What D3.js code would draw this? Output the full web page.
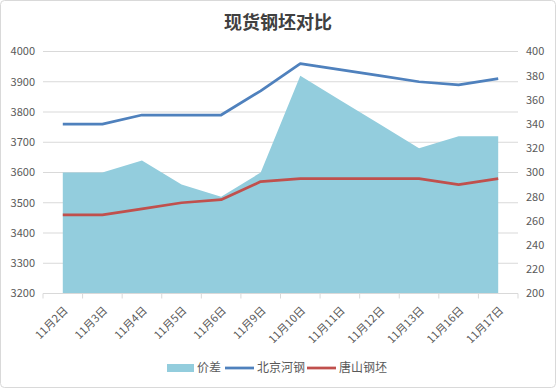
<!DOCTYPE html>
<html>
<head>
<meta charset="utf-8">
<script src="https://cdn.jsdelivr.net/npm/d3@7"></script>
<style>
  body { margin: 0; background: #fff; }
  svg text { font-family: "Noto Sans CJK SC", "Liberation Sans", sans-serif; }
</style>
</head>
<body>
<div id="chart"></div>
<script>
const dates = ["11月2日","11月3日","11月4日","11月5日","11月6日","11月9日","11月10日","11月11日","11月12日","11月13日","11月16日","11月17日"];
const beijing = [3760,3760,3790,3790,3790,3870,3960,3940,3920,3900,3890,3910];
const tangshan = [3460,3460,3480,3500,3510,3570,3580,3580,3580,3580,3560,3580];
const spread = [300,300,310,290,280,300,380,360,340,320,330,330];
const leftTicks = [3200,3300,3400,3500,3600,3700,3800,3900,4000];
const rightTicks = [200,220,240,260,280,300,320,340,360,380,400];

const W = 556, H = 388;
const m = { left: 43, right: 518, top: 51.5, bottom: 293.5 };

const svg = d3.select("#chart").append("svg")
  .attr("width", W).attr("height", H);

svg.append("rect")
  .attr("x", 0.5).attr("y", 0.5).attr("width", W - 1).attr("height", H - 1)
  .attr("rx", 4)
  .attr("fill", "#fff").attr("stroke", "#d9d9d9");

const xBand = d3.scaleBand().domain(dates).range([m.left, m.right]);
const x = d => xBand(d) + xBand.bandwidth() / 2;
const yL = d3.scaleLinear().domain([3200, 4000]).range([m.bottom, m.top]);
const yR = d3.scaleLinear().domain([200, 400]).range([m.bottom, m.top]);

// gridlines
svg.append("g").selectAll("line").data(leftTicks).join("line")
  .attr("x1", m.left).attr("x2", m.right)
  .attr("y1", d => yL(d)).attr("y2", d => yL(d))
  .attr("stroke", "#d9d9d9").attr("stroke-width", 1);

// area (价差, right axis)
const area = d3.area()
  .x((d, i) => x(dates[i]))
  .y0(yR(200))
  .y1(d => yR(d));
svg.append("path").datum(spread)
  .attr("d", area)
  .attr("fill", "#93cddd");

// lines
const lineL = d3.line().x((d, i) => x(dates[i])).y(d => yL(d));
svg.append("path").datum(beijing)
  .attr("d", lineL).attr("fill", "none")
  .attr("stroke", "#4f81bd").attr("stroke-width", 2.75).attr("stroke-linejoin", "round");
svg.append("path").datum(tangshan)
  .attr("d", lineL).attr("fill", "none")
  .attr("stroke", "#c0504d").attr("stroke-width", 2.75).attr("stroke-linejoin", "round");

// x axis line + ticks
svg.append("line")
  .attr("x1", m.left).attr("x2", m.right)
  .attr("y1", m.bottom).attr("y2", m.bottom)
  .attr("stroke", "#d9d9d9");
const bounds = dates.map(d => xBand(d)).concat([m.right]);
svg.append("g").selectAll("line").data(bounds).join("line")
  .attr("x1", d => d).attr("x2", d => d)
  .attr("y1", m.bottom).attr("y2", m.bottom + 5)
  .attr("stroke", "#d9d9d9");

// category labels
svg.append("g").selectAll("text").data(dates).join("text")
  .attr("transform", d => `translate(${x(d) + 3},${m.bottom + 15}) rotate(-45)`)
  .attr("text-anchor", "end")
  .attr("dy", "0.35em")
  .attr("font-size", 11)
  .attr("fill", "#595959")
  .text(d => d);

// left axis labels
svg.append("g").selectAll("text").data(leftTicks).join("text")
  .attr("x", 35).attr("y", d => yL(d))
  .attr("dy", "0.35em")
  .attr("text-anchor", "end")
  .attr("font-size", 11)
  .attr("fill", "#595959")
  .text(d => d);

// right axis labels
svg.append("g").selectAll("text").data(rightTicks).join("text")
  .attr("x", 526).attr("y", d => yR(d))
  .attr("dy", "0.35em")
  .attr("text-anchor", "start")
  .attr("font-size", 11)
  .attr("fill", "#595959")
  .text(d => d);

// title
svg.append("text")
  .attr("x", W / 2).attr("y", 23)
  .attr("dy", "0.35em")
  .attr("text-anchor", "middle")
  .attr("font-size", 18)
  .attr("font-weight", "bold")
  .attr("fill", "#404040")
  .text("现货钢坯对比");

// legend
const legend = svg.append("g").attr("font-size", 12).attr("fill", "#595959");
legend.append("rect").attr("x", 167).attr("y", 364).attr("width", 27).attr("height", 8).attr("fill", "#93cddd");
legend.append("text").attr("x", 197).attr("y", 368).attr("dy", "0.35em").text("价差");
legend.append("line").attr("x1", 225).attr("x2", 254).attr("y1", 368).attr("y2", 368)
  .attr("stroke", "#4f81bd").attr("stroke-width", 2.75);
legend.append("text").attr("x", 257).attr("y", 368).attr("dy", "0.35em").text("北京河钢");
legend.append("line").attr("x1", 307).attr("x2", 336).attr("y1", 368).attr("y2", 368)
  .attr("stroke", "#c0504d").attr("stroke-width", 2.75);
legend.append("text").attr("x", 339).attr("y", 368).attr("dy", "0.35em").text("唐山钢坯");
</script>
</body>
</html>
